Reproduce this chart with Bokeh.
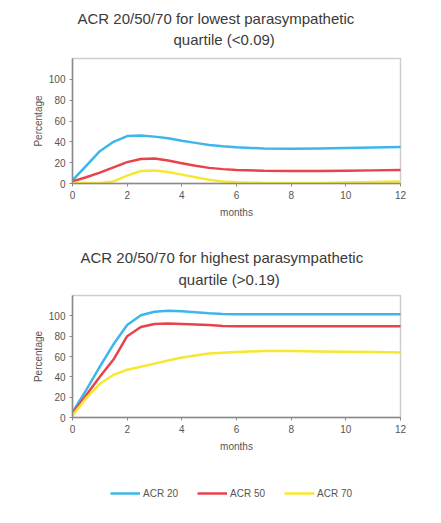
from bokeh.plotting import figure
from bokeh.models import Range1d, FixedTicker, Title, Legend, LegendItem
from bokeh.layouts import column
from bokeh.embed import file_html
from bokeh.resources import INLINE

# ---------------- data ----------------
months = [0, 0.5, 1, 1.5, 2, 2.5, 3, 3.5, 4, 4.5, 5, 5.5, 6, 7, 8, 9, 10, 11, 12]

low_acr20 = [3, 17, 31, 40, 45.5, 46, 45, 43.4, 41, 39, 37, 35.7, 34.7, 33.6, 33.4, 33.5, 34, 34.5, 35]
low_acr50 = [2, 6, 10.5, 15.5, 20.5, 23.5, 24, 22, 19.5, 17, 15, 13.8, 13, 12.2, 12, 12, 12.3, 12.6, 13]
low_acr70 = [0.5, 0.5, 0.5, 2, 7.5, 12, 12.5, 11, 8.5, 6, 3.5, 2, 1.3, 0.6, 0.5, 0.6, 1, 1.5, 2]

high_acr20 = [5, 27, 50, 72, 91, 100.5, 104, 105, 104.5, 103.5, 102.5, 101.8, 101.5, 101.5, 101.5, 101.5, 101.5, 101.5, 101.5]
high_acr50 = [4, 22, 40, 57, 80, 89, 92, 92.5, 92, 91.5, 91, 90, 89.7, 89.7, 89.7, 89.7, 89.7, 89.7, 89.7]
high_acr70 = [2, 19, 33, 42, 47, 50, 53, 56, 59, 61, 63, 63.8, 64.5, 65.3, 65.3, 65, 64.7, 64.4, 64]

series_names = ["ACR 20", "ACR 50", "ACR 70"]
series_colors = ["#3DB6EA", "#E8424A", "#F6E731"]

x_ticks = [0, 2, 4, 6, 8, 10, 12]
y_ticks = [0, 20, 40, 60, 80, 100]

titles_low = ["ACR 20/50/70 for lowest parasympathetic", "quartile (<0.09)"]
titles_high = ["ACR 20/50/70 for highest parasympathetic", "quartile (>0.19)"]
x_label = "months"
y_label = "Percentage"

FONT = "Liberation Sans"
TEXT_GRAY = "#555555"
AXIS_GRAY = "#8a8a8a"
W = 433
B_LEFT = 72
B_RIGHT = 33


def make_chart(title_lines, title_offsets, title_standoffs, series,
               height, b_top, b_bottom):
    p = figure(width=W, height=height, title=None,
               x_range=Range1d(0, 12), y_range=Range1d(0, 120),
               output_backend="svg", toolbar_location=None,
               min_border_left=B_LEFT, min_border_right=B_RIGHT,
               min_border_top=b_top, min_border_bottom=b_bottom)
    p.background_fill_color = "white"
    p.border_fill_color = "white"
    p.outline_line_color = "#cdcdcd"
    p.outline_line_width = 1.5
    p.xgrid.visible = False
    p.ygrid.visible = False

    # titles: inner line first, then outer line
    for i in (1, 0):
        p.add_layout(Title(text=title_lines[i], align="left", offset=title_offsets[i],
                           standoff=title_standoffs[i], text_font=FONT,
                           text_font_size="15px", text_font_style="normal",
                           text_color="#3a3a3a"), "above")

    for ax, ticks, lab in ((p.xaxis, x_ticks, x_label), (p.yaxis, y_ticks, y_label)):
        ax.ticker = FixedTicker(ticks=ticks)
        ax.axis_label = lab
        ax.axis_label_text_font = FONT
        ax.axis_label_text_font_size = "10px"
        ax.axis_label_text_font_style = "normal"
        ax.axis_label_text_color = TEXT_GRAY
        ax.major_label_text_font = FONT
        ax.major_label_text_font_size = "10px"
        ax.major_label_text_color = TEXT_GRAY
        ax.axis_line_color = AXIS_GRAY
        ax.axis_line_width = 1.5
        ax.major_tick_line_color = AXIS_GRAY
        ax.major_tick_line_width = 1
        ax.major_tick_in = 0
        ax.major_tick_out = 3
        ax.minor_tick_line_color = None
        ax.major_label_standoff = 4
        ax.axis_label_standoff = 5
    p.yaxis.axis_label_standoff = 2

    for ys, c in zip(series, series_colors):
        p.line(months, ys, line_color=c, line_width=2.5,
               line_join="round", line_cap="round")
    return p


p1 = make_chart(titles_low, [5, 101], [-14.6, 20.3], [low_acr20, low_acr50, low_acr70],
                height=230, b_top=58, b_bottom=47)
p2 = make_chart(titles_high, [8, 106], [-8.6, 15.3], [high_acr20, high_acr50, high_acr70],
                height=232, b_top=65, b_bottom=45)

# legend strip (its lines hold the same series, scrolled out of view)
p3 = figure(width=W, height=55, title=None, x_range=Range1d(0, 12), y_range=Range1d(500, 501),
            output_backend="svg", toolbar_location=None,
            x_axis_location=None, y_axis_location=None, min_border=0,
            min_border_left=B_LEFT, min_border_right=B_RIGHT)
p3.outline_line_color = None
p3.xgrid.visible = False
p3.ygrid.visible = False
items = []
for name, ys, c in zip(series_names, [high_acr20, high_acr50, high_acr70], series_colors):
    r = p3.line(months, ys, line_color=c, line_width=2.5)
    items.append(LegendItem(label=name, renderers=[r]))
legend = Legend(items=items, orientation="horizontal", location=(38, 18),
                glyph_width=30, glyph_height=12, label_height=12,
                label_standoff=3, spacing=19, padding=0, margin=0,
                label_text_font=FONT, label_text_font_size="10px",
                label_text_color=TEXT_GRAY,
                border_line_color=None, background_fill_alpha=0)
p3.add_layout(legend, "center")

layout = column(p1, p2, p3, spacing=0)
open("out.html", "w").write(file_html(layout, INLINE))
